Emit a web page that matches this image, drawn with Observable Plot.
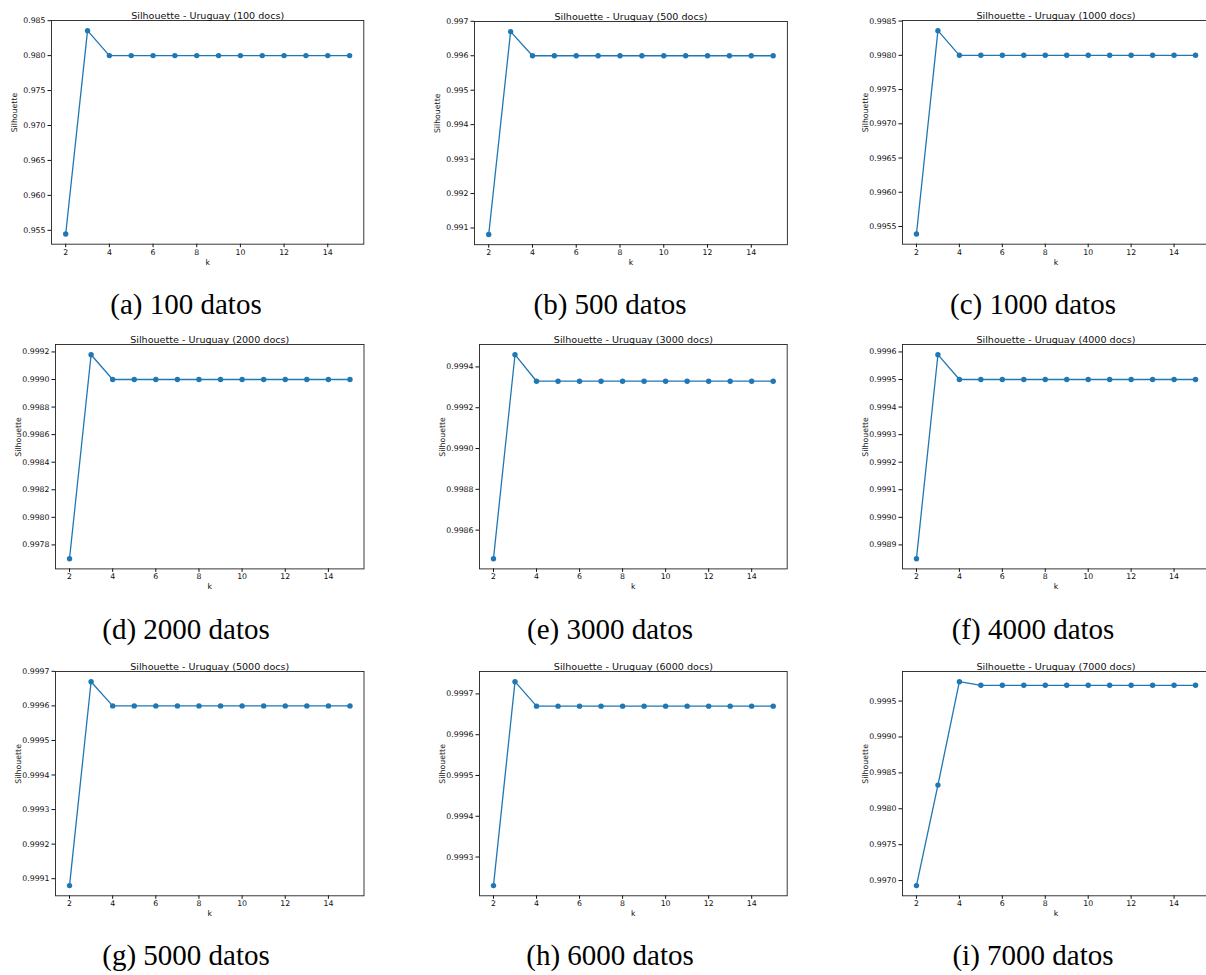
<!DOCTYPE html>
<html><head><meta charset="utf-8">
<script src="https://cdn.jsdelivr.net/npm/d3@7"></script>
<script src="https://cdn.jsdelivr.net/npm/@observablehq/plot@0.6"></script>
<style>
html,body{margin:0;padding:0;background:#fff;}
#page{position:relative;width:1206px;height:975px;overflow:hidden;background:#fff;}
.panel{position:absolute;}
.panel svg{overflow:visible;max-width:none !important;}
.caption{position:absolute;font-family:"Liberation Serif","Times New Roman",serif;font-size:29px;line-height:29px;color:#000;white-space:nowrap;transform:translateX(-50%);}
</style></head><body><div id="page"></div>
<script>
// ---- data ----
const kValues = [2, 3, 4, 5, 6, 7, 8, 9, 10, 11, 12, 13, 14, 15];
const sil100  = [0.95447, 0.98357, 0.98000, 0.98000, 0.98000, 0.98000, 0.98000, 0.98000, 0.98000, 0.98000, 0.98000, 0.98000, 0.98000, 0.98000];
const sil500  = [0.99081, 0.99670, 0.99600, 0.99600, 0.99600, 0.99600, 0.99600, 0.99600, 0.99600, 0.99600, 0.99600, 0.99600, 0.99600, 0.99600];
const sil1000 = [0.99539, 0.99836, 0.99800, 0.99800, 0.99800, 0.99800, 0.99800, 0.99800, 0.99800, 0.99800, 0.99800, 0.99800, 0.99800, 0.99800];
const sil2000 = [0.99770, 0.99918, 0.99900, 0.99900, 0.99900, 0.99900, 0.99900, 0.99900, 0.99900, 0.99900, 0.99900, 0.99900, 0.99900, 0.99900];
const sil3000 = [0.99846, 0.99946, 0.99933, 0.99933, 0.99933, 0.99933, 0.99933, 0.99933, 0.99933, 0.99933, 0.99933, 0.99933, 0.99933, 0.99933];
const sil4000 = [0.99885, 0.99959, 0.99950, 0.99950, 0.99950, 0.99950, 0.99950, 0.99950, 0.99950, 0.99950, 0.99950, 0.99950, 0.99950, 0.99950];
const sil5000 = [0.99908, 0.99967, 0.99960, 0.99960, 0.99960, 0.99960, 0.99960, 0.99960, 0.99960, 0.99960, 0.99960, 0.99960, 0.99960, 0.99960];
const sil6000 = [0.99923, 0.99973, 0.99967, 0.99967, 0.99967, 0.99967, 0.99967, 0.99967, 0.99967, 0.99967, 0.99967, 0.99967, 0.99967, 0.99967];
const sil7000 = [0.99693, 0.99833, 0.99977, 0.99972, 0.99972, 0.99972, 0.99972, 0.99972, 0.99972, 0.99972, 0.99972, 0.99972, 0.99972, 0.99972];

const titles = [
  "Silhouette - Uruguay (100 docs)", "Silhouette - Uruguay (500 docs)", "Silhouette - Uruguay (1000 docs)",
  "Silhouette - Uruguay (2000 docs)", "Silhouette - Uruguay (3000 docs)", "Silhouette - Uruguay (4000 docs)",
  "Silhouette - Uruguay (5000 docs)", "Silhouette - Uruguay (6000 docs)", "Silhouette - Uruguay (7000 docs)"
];
const captions = ["(a) 100 datos", "(b) 500 datos", "(c) 1000 datos", "(d) 2000 datos", "(e) 3000 datos",
  "(f) 4000 datos", "(g) 5000 datos", "(h) 6000 datos", "(i) 7000 datos"];

const xTicks = [2, 4, 6, 8, 10, 12, 14];
const yTicks100  = [0.955, 0.960, 0.965, 0.970, 0.975, 0.980, 0.985];
const yTicks500  = [0.991, 0.992, 0.993, 0.994, 0.995, 0.996, 0.997];
const yTicks1000 = [0.9955, 0.9960, 0.9965, 0.9970, 0.9975, 0.9980, 0.9985];
const yTicks2000 = [0.9978, 0.9980, 0.9982, 0.9984, 0.9986, 0.9988, 0.9990, 0.9992];
const yTicks3000 = [0.9986, 0.9988, 0.9990, 0.9992, 0.9994];
const yTicks4000 = [0.9989, 0.9990, 0.9991, 0.9992, 0.9993, 0.9994, 0.9995, 0.9996];
const yTicks5000 = [0.9991, 0.9992, 0.9993, 0.9994, 0.9995, 0.9996, 0.9997];
const yTicks6000 = [0.9993, 0.9994, 0.9995, 0.9996, 0.9997];
const yTicks7000 = [0.9970, 0.9975, 0.9980, 0.9985, 0.9990, 0.9995];

const series = [sil100, sil500, sil1000, sil2000, sil3000, sil4000, sil5000, sil6000, sil7000];
const yTicks = [yTicks100, yTicks500, yTicks1000, yTicks2000, yTicks3000, yTicks4000, yTicks5000, yTicks6000, yTicks7000];
const yFormats = [".3f", ".3f", ".4f", ".4f", ".4f", ".4f", ".4f", ".4f", ".4f"];

// ---- layout (page coordinates of each axes frame) ----
const frames = [
  {l: 51, r: 363.3, t: 20, b: 243.7},
  {l: 473.8, r: 786.7, t: 20.5, b: 243.7},
  {l: 902, r: 1209, t: 20, b: 243.7},
  {l: 55, r: 363.5, t: 344.3, b: 568.7},
  {l: 479, r: 786.7, t: 344.3, b: 568.7},
  {l: 902, r: 1209, t: 344.3, b: 568.7},
  {l: 55, r: 363.5, t: 670.7, b: 895},
  {l: 479, r: 786.7, t: 670.7, b: 895},
  {l: 902, r: 1209, t: 670.7, b: 895}
];
const captionX = [186, 610, 1033];
const captionBaseline = [314, 639, 965];

const page = document.getElementById("page");
const blue = "#1f77b4";
const ML = 60, MR = 40, MT = 22, MB = 32;

series.forEach((vals, i) => {
  const f = frames[i];
  const data = kValues.map((k, j) => ({k, s: vals[j]}));
  const lo = d3.min(vals), hi = d3.max(vals), pad = (hi - lo) * 0.05;
  const W = (f.r - f.l) + ML + MR, H = (f.b - f.t) + MT + MB;
  const chart = Plot.plot({
    width: W,
    height: H,
    marginLeft: ML, marginRight: MR, marginTop: MT, marginBottom: MB,
    style: {fontFamily: "DejaVu Sans, sans-serif", fontSize: "7.8px", color: "#111", background: "transparent", overflow: "visible", maxWidth: "none"},
    x: {domain: [1.35, 15.65]},
    y: {domain: [lo - pad, hi + pad]},
    marks: [
      Plot.axisX({ticks: xTicks, tickSize: 3.5, tickPadding: 1.5, label: null, tickFormat: d3.format("d")}),
      Plot.axisY({ticks: yTicks[i], tickSize: 3.5, tickPadding: 2.5, label: null, tickFormat: d3.format(yFormats[i])}),
      Plot.line(data, {x: "k", y: "s", stroke: blue, strokeWidth: 1.3}),
      Plot.dot(data, {x: "k", y: "s", r: 2.7, fill: blue, stroke: "none"}),
      Plot.frame({stroke: "#222", strokeWidth: 0.9}),
      Plot.text([titles[i]], {frameAnchor: "top", dy: -8.5, fontSize: 9.6, fill: "#111"}),
      Plot.text(["Silhouette"], {frameAnchor: "left", dx: -37, rotate: -90, fontSize: 7.8, fill: "#111"}),
      Plot.text(["k"], {frameAnchor: "bottom", dy: 20.6, fontSize: 7.8, fill: "#111"})
    ]
  });
  const div = document.createElement("div");
  div.className = "panel";
  div.style.left = (f.l - ML) + "px";
  div.style.top = (f.t - MT) + "px";
  div.style.width = W + "px";
  div.style.height = H + "px";
  div.appendChild(chart);
  page.appendChild(div);

  const cap = document.createElement("div");
  cap.className = "caption";
  cap.textContent = captions[i];
  cap.style.left = captionX[i % 3] + "px";
  cap.style.top = (captionBaseline[Math.floor(i / 3)] - 24.3) + "px";
  page.appendChild(cap);
});
</script>
</body></html>
